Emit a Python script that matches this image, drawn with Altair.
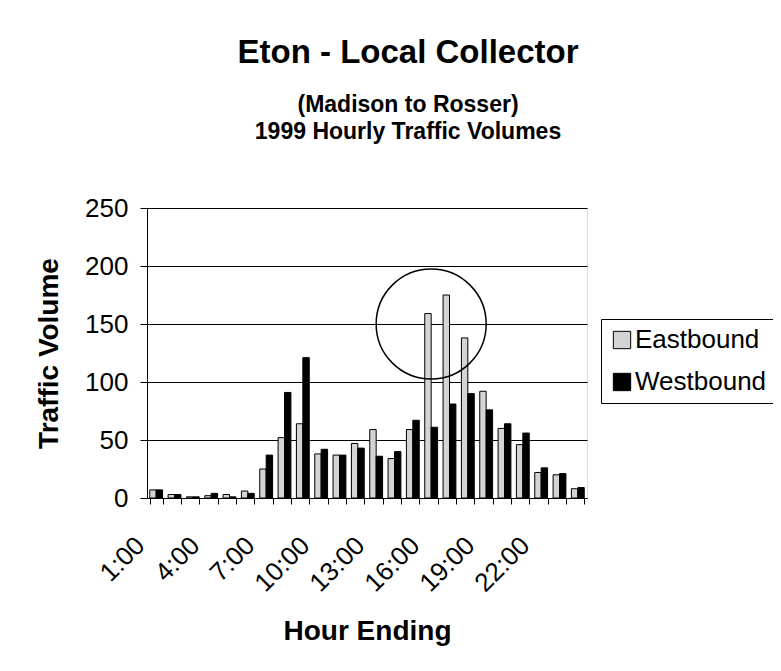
import altair as alt
import pandas as pd

hours = ["1:00", "2:00", "3:00", "4:00", "5:00", "6:00", "7:00", "8:00",
         "9:00", "10:00", "11:00", "12:00", "13:00", "14:00", "15:00", "16:00",
         "17:00", "18:00", "19:00", "20:00", "21:00", "22:00", "23:00", "24:00"]
eastbound = [7, 3, 1, 2, 3, 6, 25, 52, 64, 38, 37, 47, 59, 34, 59, 159,
             175, 138, 92, 60, 46, 22, 20, 8]
westbound = [7, 3, 1, 4, 1, 4, 37, 91, 121, 42, 37, 43, 36, 40, 67, 61,
             81, 90, 76, 64, 56, 26, 21, 9]
label_hours = ["1:00", "4:00", "7:00", "10:00", "13:00", "16:00", "19:00", "22:00"]
y_ticks = [0, 50, 100, 150, 200, 250]
directions = ["Eastbound", "Westbound"]
colors = ["#d4d4d4", "#000000"]
circle_hour = ["16:00"]
circle_value = [150]

FONT = "Liberation Sans"

df = pd.DataFrame({
    "Hour": hours + hours,
    "Direction": [directions[0]] * len(hours) + [directions[1]] * len(hours),
    "Volume": eastbound + westbound,
})
circ = pd.DataFrame({"Hour": circle_hour, "Volume": circle_value})

label_list = ",".join("'" + h + "'" for h in label_hours)
label_expr = f"indexof([{label_list}], datum.value) >= 0 ? datum.value : ''"

x_axis = alt.Axis(
    labelExpr=label_expr, labelAngle=-45, labelAlign="right", labelBaseline="middle",
    labelFontSize=26, labelFont=FONT, labelColor="black", labelOffset=-16,
    labelPadding=37, labelOverlap=False, labelFlush=False,
    tickBand="extent", tickSize=6, tickColor="black", domainColor="black",
    titleFontSize=28, titleFont=FONT, titleFontWeight="bold", titleColor="black",
    titlePadding=21, grid=False,
)
y_axis = alt.Axis(
    values=y_ticks, labelFontSize=26, labelFont=FONT, labelColor="black",
    labelPadding=12, tickSize=7, tickColor="black", domainColor="black",
    grid=True, gridColor="black", gridWidth=1,
    titleFontSize=28, titleFont=FONT, titleFontWeight="bold", titleColor="black",
    titlePadding=21,
)

x_enc = alt.X("Hour:N", sort=hours, title="Hour Ending",
              scale=alt.Scale(paddingInner=0.3, paddingOuter=0.15), axis=x_axis)
y_enc = alt.Y("Volume:Q", title="Traffic Volume",
              scale=alt.Scale(domain=[0, 250], nice=False), axis=y_axis)

bars = alt.Chart(df).mark_bar(stroke="black", strokeWidth=1).encode(
    x=x_enc,
    xOffset=alt.XOffset("Direction:N", sort=directions, scale=alt.Scale(paddingInner=0)),
    y=y_enc,
    color=alt.Color("Direction:N", scale=alt.Scale(domain=directions, range=colors),
                    legend=alt.Legend(title=None, orient="none", legendX=454, legendY=111,
                                      strokeColor="black", fillColor="white", padding=8,
                                      labelFontSize=26, labelFont=FONT, labelColor="black",
                                      symbolType="square", symbolSize=300,
                                      symbolStrokeColor="black", symbolStrokeWidth=1,
                                      rowPadding=16, labelOffset=0)),
)

circle = alt.Chart(circ).mark_point(shape="circle", size=12100, filled=False,
                                    stroke="black", strokeWidth=1.5, opacity=1).encode(
    x=alt.X("Hour:N", sort=hours, title="Hour Ending"),
    y=alt.Y("Volume:Q", title="Traffic Volume"),
)

chart = alt.layer(bars, circle).properties(
    width=440, height=290,
    autosize=alt.AutoSizeParams(type="none"),
    padding={"left": 139, "top": 200, "right": 186, "bottom": 165},
    title=alt.TitleParams(
        text="Eton - Local Collector",
        subtitle=["(Madison to Rosser)", "1999 Hourly Traffic Volumes"],
        anchor="middle", frame="group", dx=41, offset=51,
        fontSize=33, font=FONT, fontWeight="bold", color="black",
        subtitleFontSize=23, subtitleFont=FONT, subtitleFontWeight="bold",
        subtitleColor="black", subtitleLineHeight=27, subtitlePadding=24,
    ),
).configure_view(stroke="black", strokeWidth=1).configure(background="white")

chart.save("out.html", embed_options={"renderer": "svg", "actions": False})
